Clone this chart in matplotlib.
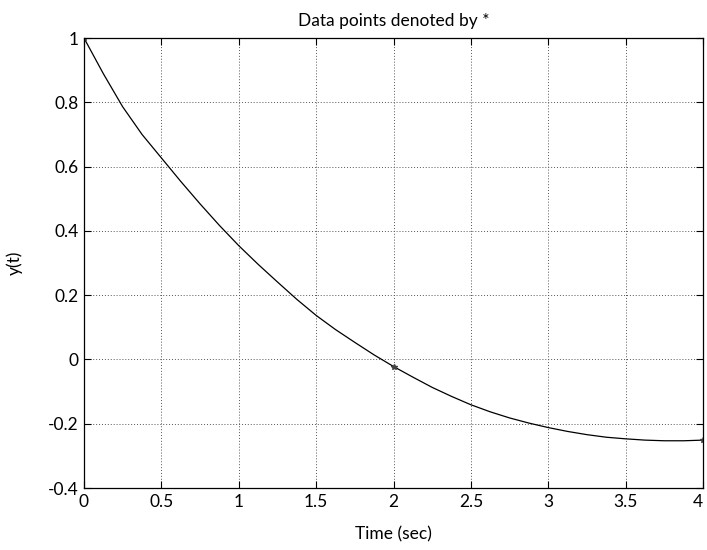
import matplotlib
matplotlib.use("Agg")
import matplotlib.pyplot as plt
from matplotlib.ticker import FormatStrFormatter

# =========================================================
# Data
# =========================================================
t = [0.0, 0.125, 0.25, 0.375, 0.5, 0.625, 0.75, 0.875,
     1.0, 1.125, 1.25, 1.375, 1.5, 1.625, 1.75, 1.875,
     2.0, 2.125, 2.25, 2.375, 2.5, 2.625, 2.75, 2.875,
     3.0, 3.125, 3.25, 3.375, 3.5, 3.625, 3.75, 3.875, 4.0]
y = [1.0, 0.889, 0.786, 0.700, 0.627, 0.554, 0.484, 0.417,
     0.354, 0.296, 0.241, 0.187, 0.137, 0.093, 0.053, 0.014,
     -0.022, -0.055, -0.087, -0.115, -0.141, -0.163, -0.182, -0.198,
     -0.212, -0.224, -0.234, -0.242, -0.247, -0.251, -0.253, -0.253, -0.251]

t_data = [0.0, 2.0, 4.0]
y_data = [1.0, -0.022, -0.251]

xticks = [0, 0.5, 1, 1.5, 2, 2.5, 3, 3.5, 4]
yticks = [-0.4, -0.2, 0, 0.2, 0.4, 0.6, 0.8, 1]

# =========================================================
# Style
# =========================================================
plt.rcParams["font.family"] = ["Lato", "DejaVu Sans"]
plt.rcParams["axes.unicode_minus"] = False

fig = plt.figure(figsize=(7.07, 5.5), dpi=100)
ax = fig.add_axes([0.1188, 0.1127, 0.8756, 0.8182])

ax.plot(t, y, color="black", linewidth=0.9)
ax.plot(t_data, y_data, linestyle="none", marker="*", markersize=4,
        color="#444444")

ax.set_xlim(0, 4)
ax.set_ylim(-0.4, 1)
ax.set_xticks(xticks)
ax.set_yticks(yticks)
ax.xaxis.set_major_formatter(FormatStrFormatter("%g"))
ax.yaxis.set_major_formatter(FormatStrFormatter("%g"))

ax.grid(True, linestyle=(0, (1, 2)), color="#555555", linewidth=0.7)
ax.tick_params(direction="in", top=True, right=True, length=5,
               width=0.8, labelsize=12.5, pad=4)
for s in ax.spines.values():
    s.set_linewidth(0.9)

# last tick label sits at the figure edge, nudge it inside
ax.get_xticklabels()[-1].set_horizontalalignment("right")

ax.set_title("Data points denoted by *", fontsize=12.5, pad=9)
ax.set_xlabel("Time (sec)", fontsize=12.5, labelpad=12)
ax.set_ylabel("y(t)", fontsize=12.5, labelpad=18)

fig.savefig("out.png", dpi=100)
